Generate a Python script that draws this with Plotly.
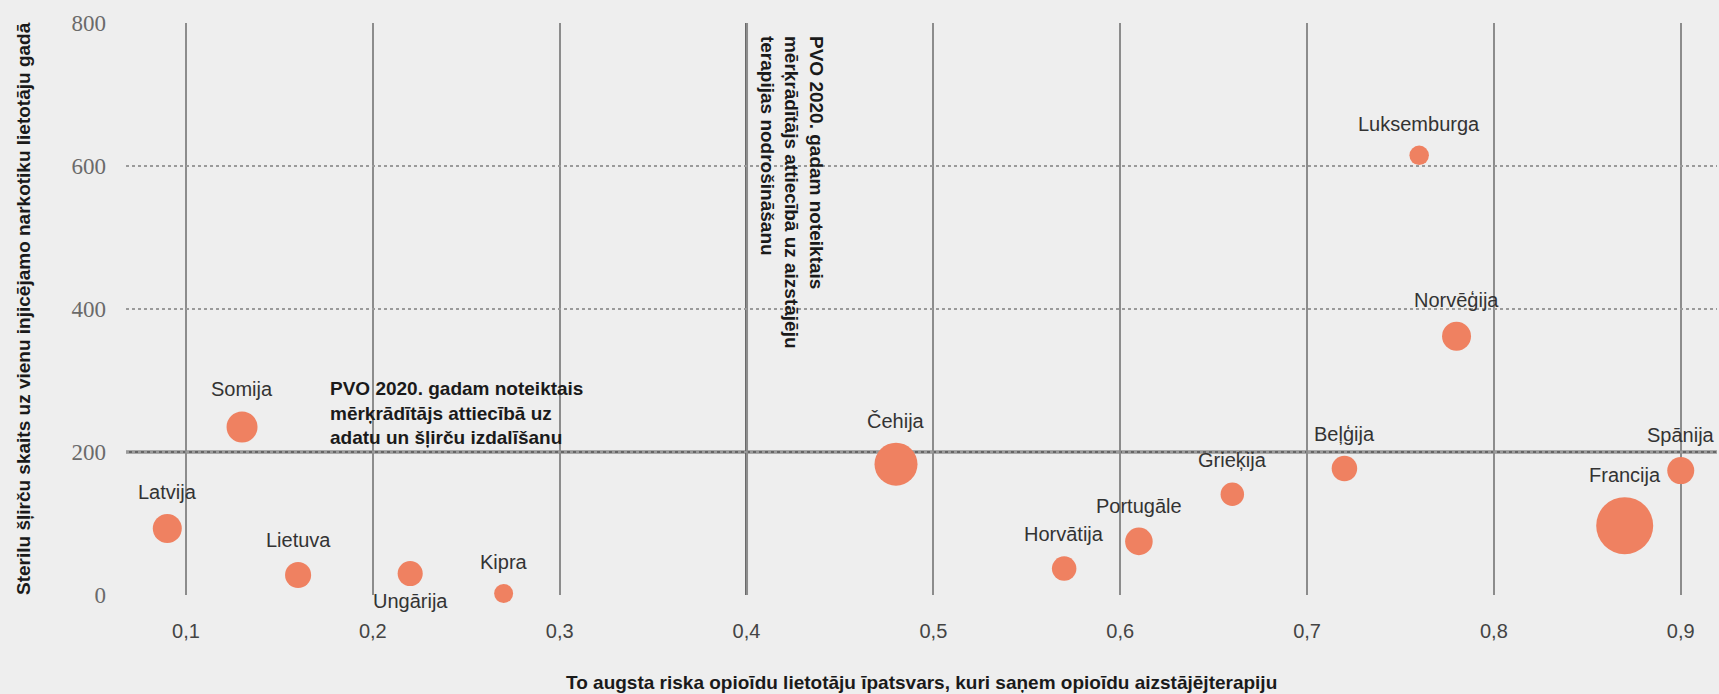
import plotly.graph_objects as go
import math

# ---- data ----
countries = ["Latvija", "Somija", "Lietuva", "Ungārija", "Kipra", "Čehija", "Horvātija",
             "Portugāle", "Grieķija", "Beļģija", "Francija", "Spānija", "Luksemburga", "Norvēģija"]
share_ost = [0.09, 0.13, 0.16, 0.22, 0.27, 0.48, 0.57, 0.61, 0.66, 0.72, 0.87, 0.90, 0.76, 0.78]
syringes_per_user = [93, 235, 28, 30, 2, 183, 37, 75, 141, 177, 97, 174, 615, 362]
bubble_value = [8.4, 9.6, 6.8, 6.3, 3.6, 18.5, 6.0, 7.6, 5.5, 6.5, 32.5, 7.3, 3.8, 8.4]

x_ticks = [0.1, 0.2, 0.3, 0.4, 0.5, 0.6, 0.7, 0.8, 0.9]
x_ticktext = ["0,1", "0,2", "0,3", "0,4", "0,5", "0,6", "0,7", "0,8", "0,9"]
y_ticks = [0, 200, 400, 600, 800]
y_ticktext = ["0", "200", "400", "600", "800"]

target_syringes = 200
target_ost = 0.4

y_title = "Sterilu šļirču skaits uz vienu injicējamo narkotiku lietotāju gadā"
x_title = "To augsta riska opioīdu lietotāju īpatsvars, kuri saņem opioīdu aizstājējterapiju"
h_note = "PVO 2020. gadam noteiktais<br>mērķrādītājs attiecībā uz<br>adatu un šļirču izdalīšanu"
v_note = "PVO 2020. gadam noteiktais<br>mērķrādītājs attiecībā uz aizstājēju<br>terapijas nodrošināšanu"

labels_below = {"Ungārija"}

# ---- style ----
BG = "#eeeeee"
BUBBLE = "#ef8161"
SIZEREF = 0.02
LABEL_FONT = dict(family="Liberation Sans, Arial, sans-serif", size=20, color="#333333")
BOLD_FONT = dict(family="Liberation Sans, Arial, sans-serif", size=19, color="#1a1a1a")

fig = go.Figure()
fig.add_trace(go.Scatter(
    x=share_ost, y=syringes_per_user, mode="markers",
    marker=dict(size=bubble_value, sizemode="area", sizeref=SIZEREF, color=BUBBLE,
                line=dict(width=0), opacity=1),
    cliponaxis=False, hoverinfo="text", text=countries, showlegend=False,
))

annotations = []
for name, xv, yv, v in zip(countries, share_ost, syringes_per_user, bubble_value):
    r = math.sqrt(v / (2 * SIZEREF))  # marker radius as plotly computes it (area mode)
    if name in labels_below:
        shift = -(r + 15)
    else:
        shift = r + 22
    annotations.append(dict(x=xv, y=yv, xref="x", yref="y", text=name, showarrow=False,
                            xanchor="center", yanchor="middle", yshift=shift, font=LABEL_FONT))

# reference-line notes
annotations.append(dict(x=0.176, y=307, xref="x", yref="y", text="<b>" + h_note + "</b>",
                        showarrow=False, xanchor="left", yanchor="top", align="left",
                        font=BOLD_FONT))
annotations.append(dict(x=target_ost, y=800, xref="x", yref="y", text="<b>" + v_note + "</b>",
                        showarrow=False, xanchor="left", yanchor="top", align="left",
                        textangle=90, xshift=9, yshift=-11, font=BOLD_FONT))
# axis titles
annotations.append(dict(x=0, y=0.5, xref="paper", yref="paper", text="<b>" + y_title + "</b>",
                        showarrow=False, textangle=-90, xanchor="center", yanchor="middle",
                        xshift=-103, font=BOLD_FONT))
annotations.append(dict(x=0.5, y=0, xref="paper", yref="paper", text="<b>" + x_title + "</b>",
                        showarrow=False, xanchor="center", yanchor="middle",
                        yshift=-87, font=BOLD_FONT))

shapes = [
    dict(type="line", xref="paper", yref="y", x0=0, x1=1, y0=target_syringes, y1=target_syringes,
         line=dict(color="#666666", width=3), layer="below"),
    dict(type="line", xref="x", yref="paper", x0=target_ost, x1=target_ost, y0=0, y1=1,
         line=dict(color="#666666", width=3), layer="below"),
]

fig.update_layout(
    width=1719, height=694,
    margin=dict(l=126, r=2, t=23, b=99),
    paper_bgcolor=BG, plot_bgcolor=BG,
    separators=", ",
    annotations=annotations, shapes=shapes,
    xaxis=dict(range=[0.0679, 0.9194], tickvals=x_ticks, ticktext=x_ticktext,
               showgrid=True, gridcolor="#8c8c8c", gridwidth=1.5, griddash="solid",
               zeroline=False, showline=False, ticks="", ticklabelstandoff=22,
               tickfont=dict(family="Liberation Sans, Arial, sans-serif", size=20, color="#444444"),
               layer="below traces"),
    yaxis=dict(range=[0, 800], tickvals=y_ticks, ticktext=y_ticktext,
               showgrid=True, gridcolor="#9a9a9a", gridwidth=1.5, griddash="dot",
               zeroline=False, showline=False, ticks="", ticklabelstandoff=19,
               tickfont=dict(family="Liberation Serif, Times New Roman, serif", size=23, color="#6a6a6a"),
               layer="below traces"),
)

fig.write_html(
    "out.html",
    config={"displayModeBar": False},
    post_script="document.body.style.margin='0px';document.body.style.overflow='hidden';"
                "document.body.style.background='#eeeeee';",
)
